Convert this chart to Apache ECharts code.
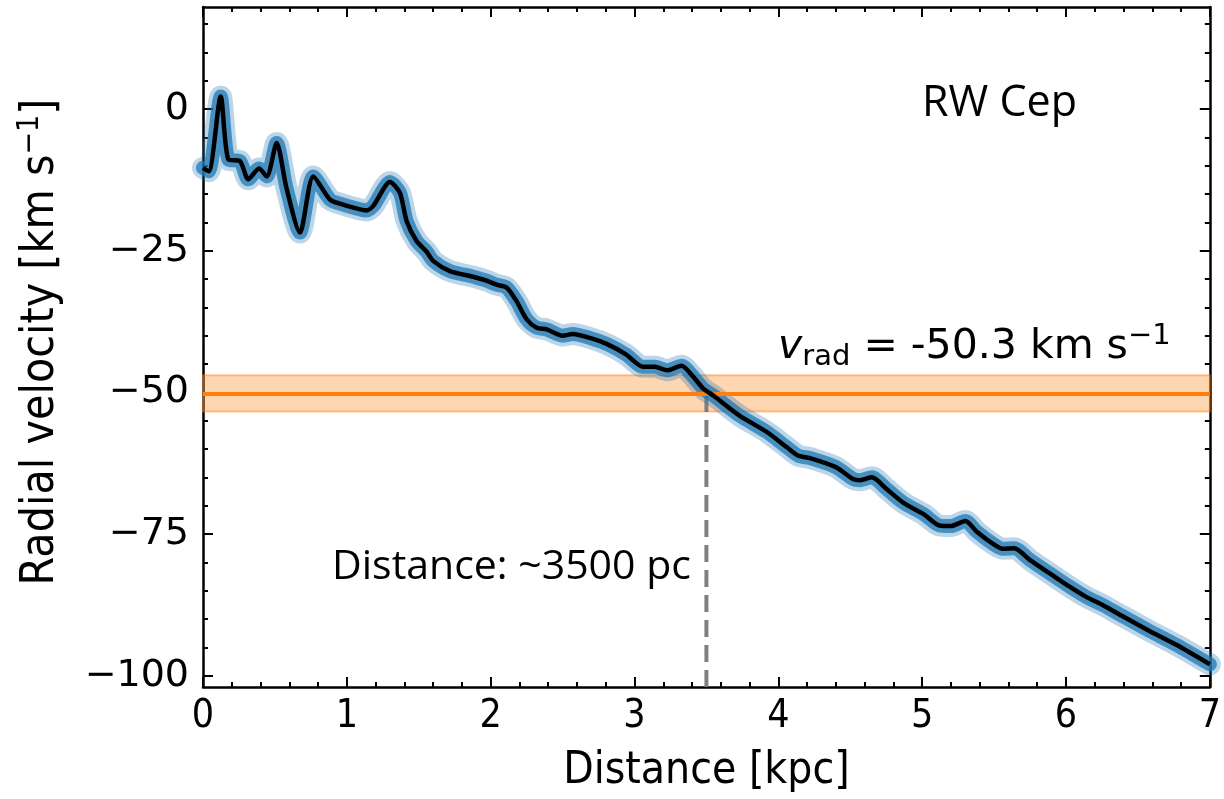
<!DOCTYPE html>
<html>
<head>
<meta charset="utf-8">
<script src="https://cdn.jsdelivr.net/npm/echarts@6/dist/echarts.min.js"></script>
<style>html,body{margin:0;padding:0;background:#fff}#c{width:1224px;height:799px}</style>
</head>
<body>
<div id="c"></div>
<script>
// Median radial velocity curve (black)
const distance = [0.0,0.04,0.123,0.176,0.257,0.315,0.39,0.443,0.512,0.58,0.674,0.767,0.883,0.952,1.045,1.137,1.184,1.30,1.369,1.416,1.485,1.555,1.60,1.716,1.878,1.971,2.04,2.11,2.18,2.25,2.32,2.39,2.50,2.57,2.69,2.81,2.94,3.06,3.14,3.23,3.327,3.40,3.48,3.55,3.73,3.92,4.06,4.14,4.22,4.40,4.52,4.57,4.65,4.75,4.87,5.01,5.12,5.20,5.30,5.38,5.49,5.56,5.64,5.75,5.89,6.025,6.14,6.26,6.40,6.58,6.77,7.0];
const velocity = [-10.4,-11.0,2.2,-8.9,-9.2,-12.4,-10.5,-11.9,-6.0,-13.9,-21.8,-11.9,-16.0,-16.7,-17.4,-17.9,-17.1,-12.9,-14.8,-19.8,-23.3,-25.2,-26.8,-28.6,-29.6,-30.3,-31.0,-31.5,-33.9,-37.1,-38.6,-38.9,-40.0,-39.7,-40.4,-41.5,-43.3,-45.5,-45.5,-46.1,-45.3,-47.0,-49.4,-50.6,-54.1,-57.0,-59.7,-61.2,-61.6,-63.2,-65.3,-65.5,-65.0,-67.0,-69.5,-71.5,-73.5,-73.6,-72.7,-74.6,-76.7,-77.6,-77.5,-79.6,-82.0,-84.3,-86.1,-87.6,-89.6,-92.1,-94.6,-98.0];

// Systemic velocity and its uncertainty band
const vRad = -50.3;
const vRadBand = [-53.4, -47.0];
const starDistance = 3.5;

// Axis ranges and ticks
const xRange = [0, 7];
const yRange = [-102, 18];
const yMajorTicks = [-100, -75, -50, -25, 0];
const yMinorTicks = [-100,-95,-90,-85,-80,-75,-70,-65,-60,-55,-50,-45,-40,-35,-30,-25,-20,-15,-10,-5,0,5,10,15];

const medianData = distance.map((d, i) => [d, velocity[i]]);

const chart = echarts.init(document.getElementById('c'));
const FONT = 'DejaVu Sans';
const FONTC = 'DejaVu Sans Condensed, DejaVu Sans';
const axisLineStyle = {show: true, onZero: false, lineStyle: {color: '#000', width: 2.5}};

function yAx(pos, major, labels) {
  return {
    type: 'value', position: pos, min: yRange[0], max: yRange[1],
    axisLine: major ? axisLineStyle : {show: false, onZero: false},
    axisTick: {show: true, inside: true, length: major ? 10 : 5, lineStyle: {color: '#000', width: 2},
               customValues: major ? yMajorTicks : yMinorTicks},
    axisLabel: labels ? {show: true, customValues: yMajorTicks, fontFamily: FONT, fontSize: 38, color: '#000', margin: 14,
        formatter: v => (v < 0 ? '\u2212' + Math.abs(v) : String(v))} : {show: false},
    splitLine: {show: false}
  };
}

function xAx(pos, labels) {
  return {
    type: 'value', position: pos, min: xRange[0], max: xRange[1], interval: 1,
    axisLine: axisLineStyle,
    axisTick: {show: true, inside: true, length: 10, lineStyle: {color: '#000', width: 2}},
    minorTick: {show: true, splitNumber: 5, length: 5, lineStyle: {color: '#000', width: 2}},
    axisLabel: labels ? {show: true, fontFamily: FONTC, fontSize: 39, color: '#000', margin: 10} : {show: false},
    splitLine: {show: false}, minorSplitLine: {show: false},
    name: labels ? 'Distance [kpc]' : '', nameLocation: 'middle', nameGap: 63,
    nameTextStyle: {fontFamily: FONTC, fontSize: 44, color: '#000'}
  };
}

const yAxes = [yAx('left', true, true), yAx('left', false, false), yAx('right', true, false), yAx('right', false, false)];
yAxes[0].name = 'Radial velocity [km s{sup|\u22121}]';
yAxes[0].nameLocation = 'middle';
yAxes[0].nameGap = 136;
yAxes[0].nameRotate = 90;
yAxes[0].nameTextStyle = {fontFamily: FONTC, fontSize: 46, color: '#000', padding: [0, 0, 0, 10],
  rich: {sup: {fontFamily: FONTC, fontSize: 30, color: '#000', padding: [0, 0, 22, 0]}}};

chart.setOption({
  backgroundColor: '#fff',
  animation: false,
  grid: {left: 203, right: 14, top: 7, bottom: 109},
  xAxis: [xAx('bottom', true), xAx('top', false)],
  yAxis: yAxes,
  series: [
    {type: 'line', data: medianData, smooth: 0.25, symbol: 'none', z: 2,
     lineStyle: {color: '#1f77b4', width: 22, opacity: 0.3, cap: 'round', join: 'round'}},
    {type: 'line', data: medianData, smooth: 0.25, symbol: 'none', z: 3,
     lineStyle: {color: '#1f77b4', width: 14, opacity: 0.75, cap: 'round', join: 'round'}},
    {type: 'line', data: [[starDistance, yRange[0]], [starDistance, vRad]], symbol: 'none', z: 1,
     lineStyle: {color: '#7f7f7f', width: 4, type: [17, 8]}},
    {type: 'line', data: [[xRange[0], vRad], [xRange[1], vRad]], symbol: 'none', z: 4,
     lineStyle: {color: '#ff7f0e', width: 4},
     markArea: {silent: true, itemStyle: {color: 'rgba(255,127,14,0.32)', borderColor: 'rgba(255,127,14,0.45)', borderWidth: 2},
       data: [[{xAxis: xRange[0], yAxis: vRadBand[0]}, {xAxis: xRange[1], yAxis: vRadBand[1]}]]}},
    {type: 'line', data: medianData, smooth: 0.25, symbol: 'none', z: 5,
     lineStyle: {color: '#000', width: 4.5, join: 'round'}}
  ],
  graphic: [
    {type: 'text', left: 922, top: 82, style: {text: 'RW Cep', fontFamily: 'Open Sans', fontSize: 43, fill: '#000'}},
    {type: 'text', left: 332, top: 547, style: {text: 'Distance: ~3500 pc', fontFamily: 'Open Sans', fontSize: 41, fill: '#000'}},
    {type: 'text', left: 778, top: 322, style: {
      text: '{v|v}{sub|rad}{n| = -50.3 km s}{sup|\u22121}',
      rich: {
        v: {fontFamily: FONT, fontStyle: 'italic', fontSize: 41, fill: '#000', verticalAlign: 'middle', lineHeight: 50},
        sub: {fontFamily: FONT, fontSize: 29, fill: '#000', verticalAlign: 'bottom', lineHeight: 28},
        n: {fontFamily: FONT, fontSize: 41, fill: '#000', verticalAlign: 'middle', lineHeight: 50},
        sup: {fontFamily: FONT, fontSize: 29, fill: '#000', verticalAlign: 'top', lineHeight: 26}
      }}}
  ]
});
</script>
</body>
</html>
